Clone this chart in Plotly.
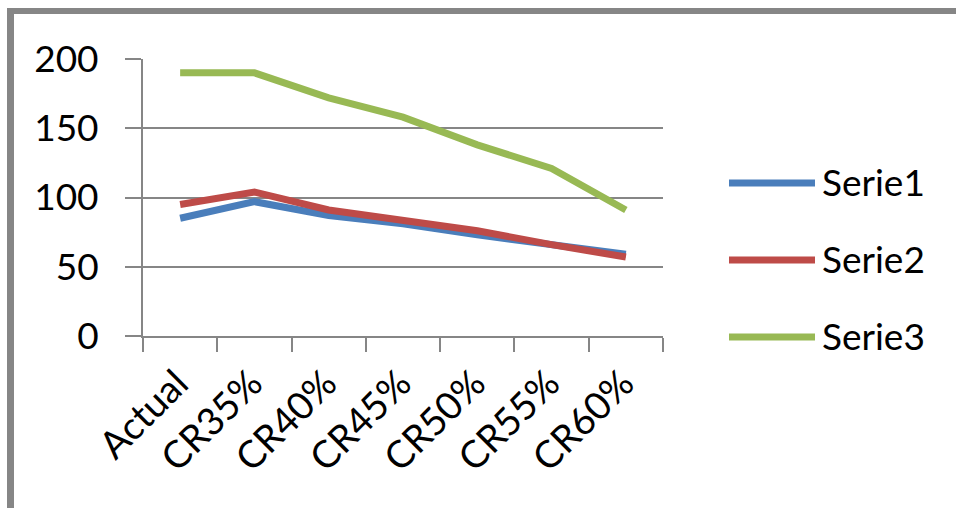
import plotly.graph_objects as go

categories = ["Actual", "CR35%", "CR40%", "CR45%", "CR50%", "CR55%", "CR60%"]
serie1 = [85, 97, 87, 81, 73, 66, 59]
serie2 = [95, 104, 91, 84, 76, 66, 57]
serie3 = [190, 190, 172, 158, 138, 121, 91]
series_names = ["Serie1", "Serie2", "Serie3"]
series_colors = ["#4A7EBB", "#BE4B48", "#98B954"]
y_ticks = [0, 50, 100, 150, 200]

W, H = 956, 508
L, R, T, B = 143, 663, 59, 336  # plot area in pixels

FONT = "Lato"
GRAY = "#868686"

fig = go.Figure()
for name, vals, col in zip(series_names, [serie1, serie2, serie3], series_colors):
    fig.add_trace(go.Scatter(
        x=categories, y=vals, name=name, mode="lines",
        line=dict(color=col, width=7), showlegend=False,
    ))


def px_x(p):
    return (p - L) / (R - L)


def px_y(p):
    return (B - p) / (B - T)


shapes = []
annotations = []
# outer frame (left and top bars)
shapes.append(dict(type="rect", xref="paper", yref="paper",
                   x0=px_x(7), x1=px_x(14), y0=px_y(8), y1=px_y(510),
                   fillcolor=GRAY, line=dict(width=0), layer="below"))
shapes.append(dict(type="rect", xref="paper", yref="paper",
                   x0=px_x(7), x1=px_x(958), y0=px_y(8), y1=px_y(14),
                   fillcolor=GRAY, line=dict(width=0), layer="below"))

# legend
legend_y = [183, 260, 337]
for name, col, ly in zip(series_names, series_colors, legend_y):
    shapes.append(dict(type="line", xref="paper", yref="paper",
                       x0=px_x(729), x1=px_x(815), y0=px_y(ly), y1=px_y(ly),
                       line=dict(color=col, width=7)))
    annotations.append(dict(text=name, xref="paper", yref="paper",
                            x=px_x(820), y=px_y(ly - 2), xanchor="left", yanchor="middle",
                            showarrow=False, font=dict(family=FONT, size=37, color="#000000")))

fig.update_layout(
    width=W, height=H,
    margin=dict(l=L, r=W - R, t=T, b=H - B, pad=0),
    paper_bgcolor="white", plot_bgcolor="white",
    shapes=shapes, annotations=annotations,
    font=dict(family=FONT, size=37, color="#000000"),
)
fig.update_xaxes(
    type="category", tickangle=-45, tickson="boundaries",
    ticks="outside", ticklen=14, tickwidth=2, tickcolor=GRAY,
    showline=True, linecolor=GRAY, linewidth=2, showgrid=False,
    tickfont=dict(family=FONT, size=38), range=[-0.5, len(categories) - 0.5],
    ticklabelstandoff=8, ticklabelshift=-3,
)
fig.update_yaxes(
    range=[0, 200], tickvals=y_ticks, ticks="outside", ticklen=16,
    tickwidth=2, tickcolor=GRAY, showline=True, linecolor=GRAY, linewidth=2,
    showgrid=True, gridcolor=GRAY, gridwidth=2, zeroline=False,
    tickfont=dict(family=FONT, size=37), ticklabelstandoff=19,
)

fig.write_html("out.html")
